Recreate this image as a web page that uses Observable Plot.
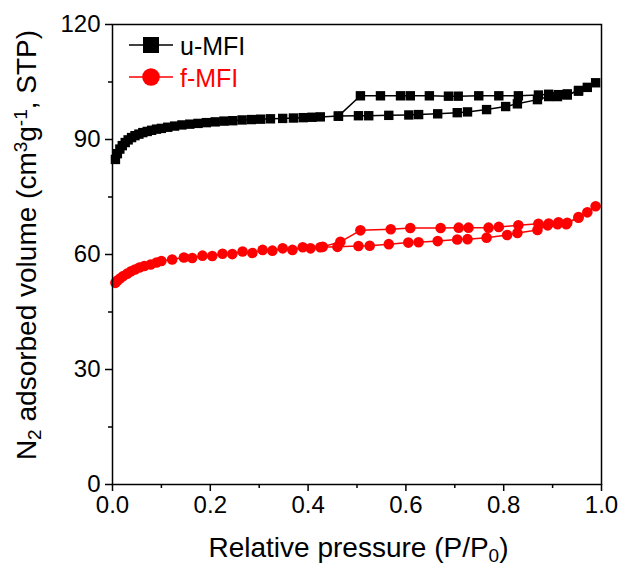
<!DOCTYPE html>
<html><head><meta charset="utf-8">
<script src="https://cdn.jsdelivr.net/npm/d3@7"></script>
<script src="https://cdn.jsdelivr.net/npm/@observablehq/plot@0.6"></script>
<style>
body{margin:0;background:#fff;}
#wrap{width:629px;height:569px;}
</style></head><body><div id="wrap"></div>
<script>
// ---- data ----
const uAdsP = [0.006,0.010,0.015,0.020,0.026,0.032,0.039,0.046,0.054,0.062,0.071,0.080,0.090,0.100,0.113,0.127,0.142,0.158,0.175,0.192,0.210,0.228,0.246,0.265,0.284,0.303,0.323,0.348,0.370,0.390,0.408,0.425,0.462,0.503,0.524,0.565,0.606,0.626,0.665,0.705,0.726,0.765,0.804,0.828,0.869,0.892,0.910,0.930,0.953,0.971,0.988];
const uAdsV = [84.8,86.3,87.5,88.4,89.2,89.9,90.5,91.0,91.4,91.8,92.1,92.4,92.7,92.9,93.2,93.5,93.8,94.0,94.2,94.4,94.6,94.8,94.9,95.1,95.2,95.3,95.4,95.5,95.6,95.7,95.8,95.9,96.1,96.2,96.2,96.3,96.4,96.5,96.7,97.0,97.2,97.8,98.6,99.3,100.4,101.2,101.2,101.6,102.8,103.6,104.8];
const uDesP = [0.953,0.930,0.912,0.892,0.871,0.830,0.790,0.749,0.707,0.687,0.648,0.609,0.589,0.548,0.507,0.462];
const uDesV = [102.6,101.9,101.7,101.8,101.6,101.4,101.4,101.4,101.3,101.3,101.4,101.4,101.4,101.4,101.4,96.1];

const fAdsP = [0.006,0.010,0.016,0.022,0.030,0.038,0.046,0.055,0.065,0.078,0.090,0.100,0.122,0.146,0.163,0.184,0.204,0.225,0.245,0.266,0.286,0.307,0.327,0.348,0.368,0.389,0.405,0.425,0.460,0.503,0.526,0.565,0.605,0.626,0.665,0.705,0.726,0.765,0.807,0.828,0.869,0.890,0.910,0.928,0.953,0.971,0.988];
const fAdsV = [52.6,53.2,53.8,54.4,55.0,55.6,56.1,56.6,57.0,57.4,57.9,58.3,58.7,59.2,59.1,59.7,59.6,60.2,60.1,60.8,60.4,61.2,61.0,61.6,61.2,61.9,61.6,61.9,62.0,62.2,62.3,62.7,63.1,63.2,63.5,63.9,64.0,64.4,65.1,65.6,66.4,67.6,67.9,67.9,69.8,71.0,72.6];
const fDesP = [0.953,0.930,0.912,0.892,0.871,0.830,0.790,0.769,0.728,0.708,0.671,0.609,0.569,0.507,0.466,0.430];
const fDesV = [69.6,68.3,68.4,68.1,68.0,67.6,67.2,67.0,67.0,67.0,66.9,66.9,66.6,66.3,63.3,62.0];

const seriesNames = ["u-MFI", "f-MFI"];
const seriesColors = ["#000000", "#ff0000"];
const seriesSymbols = ["square", "circle"];

const xTicks = [0, 0.2, 0.4, 0.6, 0.8, 1.0];
const xMinor = [0.1, 0.3, 0.5, 0.7, 0.9];
const yTicks = [0, 30, 60, 90, 120];
const yMinor = [15, 45, 75, 105];

const xTitleParts = [["Relative pressure (P/P", ""], ["0", "sub"], [")", ""]];
const yTitleParts = [["N", ""], ["2", "sub"], [" adsorbed volume (cm", ""], ["3", "super"], ["g", ""], ["-1", "super"], [", STP)", ""]];

// ---- build table ----
function rows(P, V, s, b) { return P.map((p, i) => ({p, v: V[i], s, key: s + "-" + b})); }
const data = [
  ...rows(uAdsP, uAdsV, "u-MFI", "ads"), ...rows(uDesP, uDesV, "u-MFI", "des"),
  ...rows(fAdsP, fAdsV, "f-MFI", "ads"), ...rows(fDesP, fDesV, "f-MFI", "des")
];

const FONT = "Liberation Sans, Arial, Helvetica, sans-serif";
const W = 629, H = 569, ML = 112, MR = 28, MT = 24, MB = 85;

const chart = Plot.plot({
  width: W, height: H,
  marginLeft: ML, marginRight: MR, marginTop: MT, marginBottom: MB,
  style: {fontFamily: FONT, fontSize: "24px", color: "#000", background: "#fff"},
  x: {domain: [0, 1]},
  y: {domain: [0, 120]},
  color: {domain: seriesNames, range: seriesColors},
  symbol: {domain: seriesNames, range: seriesSymbols},
  marks: [
    Plot.axisX(xTicks, {tickSize: 7, strokeWidth: 1.5, tickPadding: 4, tickFormat: d3.format(".1f"), fontSize: 24, label: null}),
    Plot.axisX(xMinor, {tickSize: 4, strokeWidth: 1.5, text: null, label: null}),
    Plot.axisY(yTicks, {tickSize: 7, strokeWidth: 1.5, tickPadding: 5, tickFormat: d3.format("d"), fontSize: 24, label: null}),
    Plot.axisY(yMinor, {tickSize: 4, strokeWidth: 1.5, text: null, label: null}),
    Plot.line(data, {x: "p", y: "v", z: "key", stroke: "s", strokeWidth: 1.5, curve: "linear"}),
    Plot.dot(data, {x: "p", y: "v", fill: "s", symbol: "s", stroke: null, r: 5.3}),
    Plot.frame({stroke: "#000", strokeWidth: 1.5})
  ]
});

document.getElementById("wrap").appendChild(chart);

// ---- titles and legend (SVG text) ----
const svg = d3.select(chart);
function addParts(t, parts) {
  parts.forEach(([s, shift]) => {
    const ts = t.append("tspan").text(s);
    if (shift === "sub") ts.attr("baseline-shift", "-5").attr("font-size", 19);
    if (shift === "super") ts.attr("baseline-shift", "9").attr("font-size", 19);
  });
}
const xt = svg.append("text")
  .attr("x", ML + (W - ML - MR) / 2 + 2).attr("y", 557)
  .attr("text-anchor", "middle").attr("font-family", FONT).attr("font-size", 28).attr("fill", "#000");
addParts(xt, xTitleParts);

const yt = svg.append("text")
  .attr("transform", "translate(36,245) rotate(-90)")
  .attr("text-anchor", "middle").attr("font-family", FONT).attr("font-size", 28).attr("fill", "#000");
addParts(yt, yTitleParts);

const leg = svg.append("g");
seriesNames.forEach((name, i) => {
  const cy = 45 + i * 32;
  const g = leg.append("g");
  g.append("line").attr("x1", 129).attr("x2", 173).attr("y1", cy).attr("y2", cy)
    .attr("stroke", seriesColors[i]).attr("stroke-width", 1.5);
  if (seriesSymbols[i] === "square") {
    g.append("rect").attr("x", 151 - 8).attr("y", cy - 8).attr("width", 16).attr("height", 16).attr("fill", seriesColors[i]);
  } else {
    g.append("circle").attr("cx", 151).attr("cy", cy).attr("r", 8.8).attr("fill", seriesColors[i]);
  }
  g.append("text").attr("x", 180).attr("y", cy + 9.5).attr("text-anchor", "start")
    .attr("font-family", FONT).attr("font-size", 25)
    .attr("fill", seriesColors[i]).text(name);
});
</script>
</body></html>
